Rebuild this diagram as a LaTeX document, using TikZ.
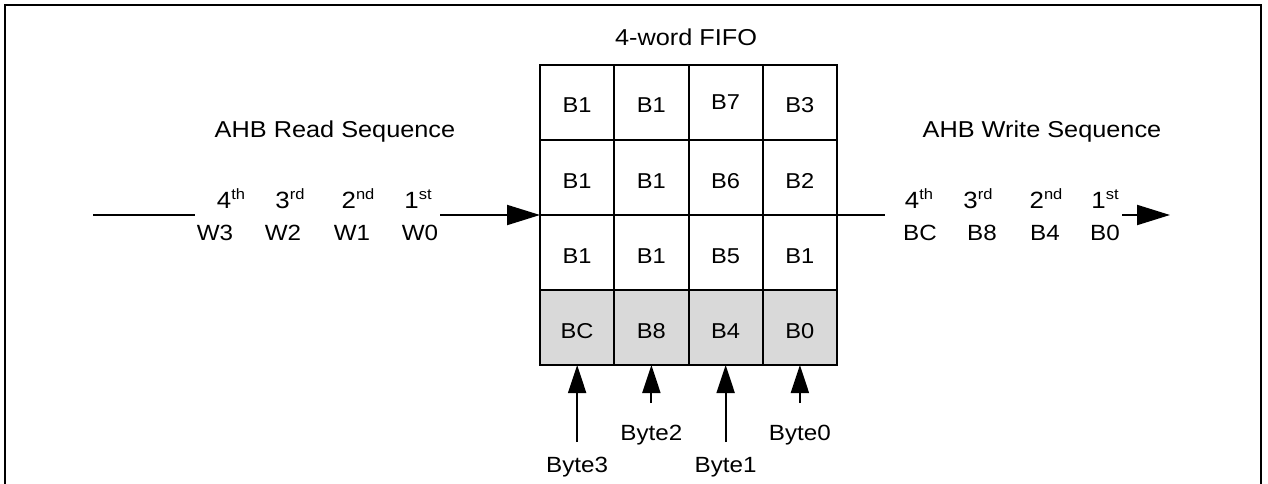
\documentclass[tikz,border=0pt]{standalone}
\usepackage{fontspec}
\setmainfont{Liberation Sans}[FakeStretch=1.1]
\usetikzlibrary{arrows.meta,calc}
\begin{document}
\begin{tikzpicture}[x=1pt,y=-1pt,
  lw/.style={line width=2pt},
  cell/.style={draw=black,line width=2pt,minimum width=74.25pt,minimum height=75pt,inner sep=0pt,outer sep=0pt,anchor=north west},
  shaded/.style={fill=gray!30},
  celltext/.style={anchor=base,inner sep=0pt,font=\fontsize{21.5}{24}\selectfont},
  txt/.style={anchor=base,inner sep=0pt,font=\fontsize{22}{26}\selectfont},
  ordtxt/.style={anchor=base,inner sep=0pt,font=\fontsize{23.5}{26}\selectfont},
  head/.style={anchor=base,inner sep=0pt,font=\fontsize{23}{27}\selectfont},
  harrow/.style={line width=2pt,-{Triangle[length=33pt,width=20pt]}},
  varrow/.style={line width=2pt,-{Triangle[length=28pt,width=18pt]}},
]
\useasboundingbox (0,0) rectangle (1268,484);
\newcommand{\ordn}[2]{#1\raisebox{8.5pt}{\fontsize{15}{15}\selectfont #2}}
% frame
\draw[lw] (5,490) -- (5,5) -- (1261,5) -- (1261,490);
% headings
\node[head] (fifo) at (686,46) {4-word FIFO};
\node[head] (rdh) at (335,137) {AHB Read Sequence};
\node[head] (wrh) at (1042,137) {AHB Write Sequence};
% grid
\foreach \r/\y in {1/65,2/140,3/215,4/290}{
  \foreach \c/\x in {1/540,2/614.25,3/688.5,4/762.75}{
    \ifnum\r=4
      \node[cell,shaded] (c\r\c) at (\x,\y) {};
    \else
      \node[cell] (c\r\c) at (\x,\y) {};
    \fi
  }
}
\node[celltext] (t11) at ($(c11.center)+(0,10.5)$) {B1};
\node[celltext] (t12) at ($(c12.center)+(0,10.5)$) {B1};
\node[celltext] (t13) at ($(c13.center)+(0,7.5)$) {B7};
\node[celltext] (t14) at ($(c14.center)+(0,10.5)$) {B3};
\node[celltext] (t21) at ($(c21.center)+(0,10.5)$) {B1};
\node[celltext] (t22) at ($(c22.center)+(0,10.5)$) {B1};
\node[celltext] (t23) at ($(c23.center)+(0,10.5)$) {B6};
\node[celltext] (t24) at ($(c24.center)+(0,10.5)$) {B2};
\node[celltext] (t31) at ($(c31.center)+(0,10.5)$) {B1};
\node[celltext] (t32) at ($(c32.center)+(0,10.5)$) {B1};
\node[celltext] (t33) at ($(c33.center)+(0,10.5)$) {B5};
\node[celltext] (t34) at ($(c34.center)+(0,10.5)$) {B1};
\node[celltext] (t41) at ($(c41.center)+(0,10.5)$) {BC};
\node[celltext] (t42) at ($(c42.center)+(0,10.5)$) {B8};
\node[celltext] (t43) at ($(c43.center)+(0,10.5)$) {B4};
\node[celltext] (t44) at ($(c44.center)+(0,10.5)$) {B0};
% read sequence
\node[ordtxt] (o4r) at (231,208) {\ordn{4}{th}};
\node[ordtxt] (o3r) at (290,208) {\ordn{3}{rd}};
\node[ordtxt] (o2r) at (358,208) {\ordn{2}{nd}};
\node[ordtxt] (o1r) at (418,208) {\ordn{1}{st}};
\node[txt] (w3) at (215,240) {W3};
\node[txt] (w2) at (283,240) {W2};
\node[txt] (w1) at (352,240) {W1};
\node[txt] (w0) at (420,240) {W0};
\coordinate (inA) at (93,215);
\coordinate (inB) at (195,215);
\coordinate (inC) at (440,215);
\draw[lw] (inA) -- (inB);
\draw[harrow] (inC) -- (c21.south west);
% write sequence
\node[ordtxt] (o4w) at (919,208) {\ordn{4}{th}};
\node[ordtxt] (o3w) at (978,208) {\ordn{3}{rd}};
\node[ordtxt] (o2w) at (1046,208) {\ordn{2}{nd}};
\node[ordtxt] (o1w) at (1105,208) {\ordn{1}{st}};
\node[txt] (bc) at (920,240) {BC};
\node[txt] (b8) at (982,240) {B8};
\node[txt] (b4) at (1045,240) {B4};
\node[txt] (b0) at (1105,240) {B0};
\coordinate (outB) at (885,215);
\coordinate (outC) at (1122,215);
\coordinate (outD) at (1170,215);
\draw[lw] (c24.south east) -- (outB);
\draw[harrow] (outC) -- (outD);
% byte lanes
\coordinate (s1) at ($(c41.south)+(0,77)$);
\coordinate (s2) at ($(c42.south)+(0,38)$);
\coordinate (s3) at ($(c43.south)+(0,77)$);
\coordinate (s4) at ($(c44.south)+(0,38)$);
\draw[varrow] (s1) -- (c41.south);
\draw[varrow] (s2) -- (c42.south);
\draw[varrow] (s3) -- (c43.south);
\draw[varrow] (s4) -- (c44.south);
\node[txt] (by3) at ($(c41.south)+(0,107)$) {Byte3};
\node[txt] (by2) at ($(c42.south)+(0,75)$) {Byte2};
\node[txt] (by1) at ($(c43.south)+(0,107)$) {Byte1};
\node[txt] (by0) at ($(c44.south)+(0,75)$) {Byte0};
\end{tikzpicture}
\end{document}
